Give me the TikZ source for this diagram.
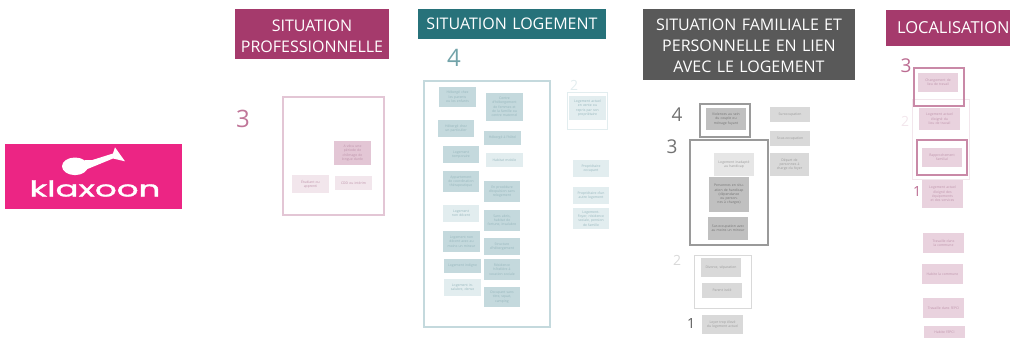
\documentclass[tikz,border=0pt]{standalone}
\usepackage{fontspec}
\setmainfont{Open Sans}
\newfontfamily\logofont{Poppins}[FakeBold=1.3]
\newcommand{\hdA}{\rule{0pt}{16pt}}
\newcommand{\hdB}{\rule{0pt}{14pt}}
\definecolor{proHead}{HTML}{A53A6C}
\definecolor{tealHead}{HTML}{27727A}
\definecolor{greyHead}{HTML}{595959}
\definecolor{logoPink}{HTML}{EC2584}
\definecolor{pinkA}{HTML}{E3C6D5}
\definecolor{pinkB}{HTML}{F2E6EC}
\definecolor{pinkC}{HTML}{E9D2DE}
\definecolor{pinkT}{HTML}{BE94AB}
\definecolor{tealA}{HTML}{C4D9DD}
\definecolor{tealB}{HTML}{E2EDEF}
\definecolor{tealT}{HTML}{96B6BC}
\definecolor{greyA}{HTML}{C0C0C0}
\definecolor{greyB}{HTML}{D9D9D9}
\definecolor{greyC}{HTML}{E6E6E6}
\definecolor{greyT}{HTML}{9A9A9A}
\tikzset{
  x=1pt,y=-1pt,
  rectnode/.style={inner sep=0pt,outer sep=0pt,align=center,anchor=center},
  header/.style={rectnode,text=white,font=\fontsize{16}{21}\selectfont},
  proH/.style={header,fill=proHead},
  tealH/.style={header,fill=tealHead},
  greyH/.style={header,fill=greyHead},
  card/.style={rectnode,font=\fontsize{3.4}{4.3}\selectfont},
  cpA/.style={card,fill=pinkA,text=pinkT},
  cpB/.style={card,fill=pinkB,text=pinkT},
  cpC/.style={card,fill=pinkC,text=pinkT},
  ctA/.style={card,fill=tealA,text=tealT},
  ctB/.style={card,fill=tealB,text=tealT},
  cgA/.style={card,fill=greyA,text=greyT!75!black},
  cgB/.style={card,fill=greyB,text=greyT},
  cgC/.style={card,fill=greyC,text=greyT},
  frame/.style={rectnode},
  fPro/.style={frame,draw=pinkA,line width=1.1pt},
  fTeal/.style={frame,draw=tealA,line width=1.1pt},
  fTealF/.style={frame,draw=tealB,line width=.9pt},
  fGrey/.style={frame,draw=greyT,line width=1.2pt},
  fGreyF/.style={frame,draw=greyB,line width=.6pt},
  fLoc/.style={frame,draw=proHead!60!white,line width=1.2pt},
  fLocF/.style={frame,draw=pinkB,line width=.6pt},
  rank/.style={inner sep=0pt,outer sep=0pt,anchor=center,font=\fontsize{19}{19}\selectfont},
  rankL/.style={rank,font=\fontsize{24}{24}\selectfont},
  rankS/.style={rank,font=\fontsize{14}{14}\selectfont},
}
% #1 name, #2 x1, #3 y1, #4 x2, #5 y2, #6 style, #7 text
\newcommand{\bx}[7]{%
  \pgfmathsetmacro{\bxw}{#4-#2}%
  \pgfmathsetmacro{\bxh}{#5-#3}%
  \pgfmathsetmacro{\bxtw}{#4-#2-7}%
  \node[#6,minimum width=\bxw pt,minimum height=\bxh pt,text width=\bxtw pt]
    (#1) at ({(#2+#4)/2},{(#3+#5)/2}) {#7};%
}
\begin{document}
\begin{tikzpicture}
\useasboundingbox (0,0) rectangle (1012,338);
% logo
\bx{logo}{5}{144}{182}{209}{rectnode,fill=logoPink}{}
\fill[white] (75,166.3) ellipse [x radius=13,y radius=8.8];
\fill[white] (85,160.2) -- (91.7,160.2) -- (113,153.5) -- (115,147.3) -- (125,161.3) -- (113,158.5) -- (96,165.5) -- (85,170) -- cycle;
\node[rectnode,text=white,font=\logofont\fontsize{22}{22}\selectfont,xscale=1.55] (logotext) at (95,188.5) {klaxoon};
% situation professionnelle
\bx{hPro}{235}{9}{389}{59}{proH}{\hdA SITUATION\\PROFESSIONNELLE}
\node[rankL,text=proHead!70!white] (r3a) at (243,119) {3};
\bx{fPro}{283}{97}{384}{215}{fPro}{}
\bx{p1}{334}{141}{371}{165}{cpA}{A vécu une période de chômage de longue durée}
\bx{p2}{292}{175}{329}{193}{cpB}{Étudiant ou apprenti}
\bx{p3}{335}{176}{372}{190}{cpB}{CDD ou intérim}
% situation logement
\bx{hLog}{418}{9}{606}{39}{tealH}{SITUATION LOGEMENT}
\node[rankL,text=tealHead!65!white] (r4a) at (454,58) {4};
\bx{fLog}{424}{81}{550}{327}{fTeal}{}
\bx{l1}{439}{87}{476}{107}{ctA}{Hébergé chez les parents ou les enfants}
\bx{l2}{486}{93}{523}{121}{ctA}{Centre d'hébergement de femmes et de la famille ou centre maternel}
\bx{l3}{438}{120}{474}{137}{ctA}{Hébergé chez un particulier}
\bx{l4}{484}{131}{521}{145}{ctA}{Hébergé à l'hôtel}
\bx{l5}{443}{146}{479}{163}{ctA}{Logement temporaire}
\bx{l6}{486}{153}{523}{167}{ctB}{Habitat mobile}
\bx{l7}{443}{171}{479}{192}{ctA}{Appartement de coordination thérapeutique}
\bx{l8}{484}{181}{520}{202}{ctA}{En procédure d'expulsion sans relogement}
\bx{l9}{443}{205}{479}{222}{ctB}{Logement non décent}
\bx{l10}{484}{210}{520}{231}{ctA}{Sans abris, habitat de fortune, insalubre}
\bx{l11}{443}{231}{480}{252}{ctA}{Logement non décent avec au moins un mineur}
\bx{l12}{484}{238}{520}{255}{ctA}{Structure d'hébergement}
\bx{l13}{444}{259}{481}{273}{ctA}{Logement indigne}
\bx{l14}{484}{259}{520}{280}{ctA}{Résidence hôtelière à vocation sociale}
\bx{l15}{444}{279}{481}{296}{ctB}{Logement insalubre, dense}
\bx{l16}{484}{287}{520}{307}{ctA}{Occupant sans titre, squat, camping}
\node[rankS,text=tealB] (r2a) at (574,85) {2};
\bx{fLog2}{567}{92}{607}{129}{fTealF}{}
\bx{l17}{569}{96}{606}{120}{ctB}{Logement actuel en vente ou repris par son propriétaire}
\bx{l18}{573}{160}{609}{177}{ctB}{Propriétaire occupant}
\bx{l19}{573}{187}{609}{204}{ctB}{Propriétaire d'un autre logement}
\bx{l20}{573}{208}{609}{229}{ctB}{Logement-Foyer, résidence sociale, pension de famille}
% situation familiale
\bx{hFam}{643}{9}{855}{80}{greyH}{\hdB SITUATION FAMILIALE ET\\PERSONNELLE EN LIEN\\AVEC LE LOGEMENT}
\node[rank,text=greyHead!85!white] (r4b) at (677,115) {4};
\node[rank,text=greyHead!85!white] (r3b) at (672,147) {3};
\node[rankS,text=greyB] (r2b) at (677,260) {2};
\node[rankS,text=greyHead] (r1b) at (691,323) {1};
\bx{fFam1}{700}{104}{750}{137}{fGrey}{}
\bx{f1}{706}{108}{746}{130}{cgA}{Violences au sein du couple ou ménage fuyant}
\bx{fFam2}{690}{140}{768}{245}{fGrey}{}
\bx{f2}{714}{153}{754}{176}{cgC}{Logement inadapté au handicap}
\bx{f3}{709}{177}{749}{212}{cgA}{Personnes en situation de handicap (dépendance ou personnes à charges)}
\bx{f4}{708}{217}{748}{240}{cgA}{Sur-occupation avec au moins un mineur}
\bx{f5}{770}{107}{810}{122}{cgB}{Suroccupation}
\bx{f6}{770}{131}{810}{146}{cgB}{Sous-occupation}
\bx{f7}{770}{153}{809}{176}{cgB}{Départ de personnes à charge du foyer}
\bx{fFam3}{694}{255}{751}{308}{fGreyF}{}
\bx{f8}{701}{258}{741}{277}{cgB}{Divorce, séparation}
\bx{f9}{702}{283}{742}{298}{cgB}{Parent isolé}
\bx{f10}{702}{315}{743}{334}{cgB}{Loyer trop élevé du logement actuel}
% localisation
\node[proH,minimum width=124pt,minimum height=36pt,text width=123pt,align=right,font=\fontsize{16.5}{21}\selectfont] (hLoc) at (948,28) {LOCALISATION};
\node[rank,text=proHead!75!white] (r3c) at (906,66) {3};
\node[rankS,text=pinkB] (r2c) at (905,121) {2};
\node[rankS,text=proHead!75!white] (r1c) at (917,191) {1};
\bx{fLoc3}{912}{99}{969}{179}{fLocF}{}
\bx{c1}{918}{73}{958}{92}{cpC}{Changement de lieu de travail}
\bx{fLoc1}{914}{68}{964}{106}{fLoc}{}
\bx{c2}{919}{108}{960}{130}{cpC}{Logement actuel éloigné du lieu de travail}
\bx{c3}{922}{148}{962}{167}{cpC}{Rapprochement familial}
\bx{fLoc2}{917}{140}{967}{175}{fLoc}{}
\bx{c4}{922}{180}{963}{208}{cpC}{Logement actuel éloigné des équipements et des services}
\bx{c5}{923}{233}{964}{253}{cpC}{Travaille dans la commune}
\bx{c6}{922}{264}{963}{284}{cpC}{Habite la commune}
\bx{c7}{923}{298}{964}{318}{cpC}{Travaille dans l'EPCI}
\bx{c8}{924}{326}{965}{338}{cpC}{Habite l'EPCI}
\end{tikzpicture}
\end{document}
